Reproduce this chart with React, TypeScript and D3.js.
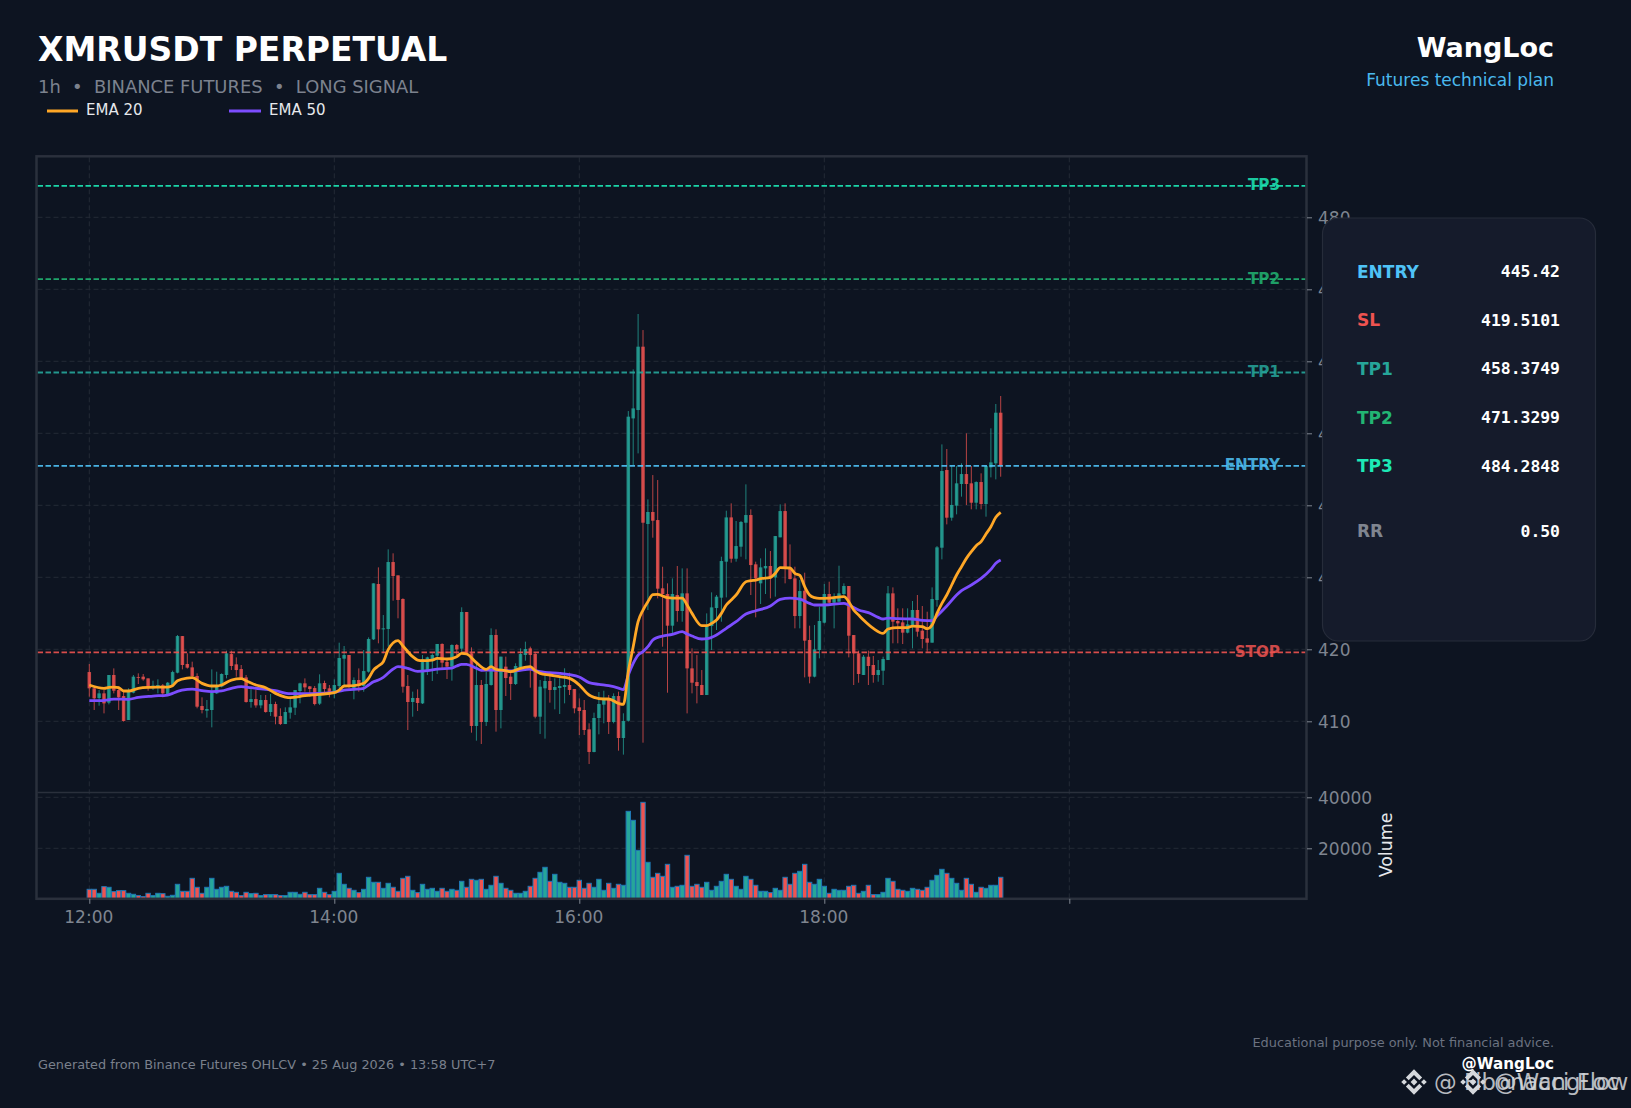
// App.tsx
import React, { useEffect, useRef } from 'react';
import * as d3 from 'd3';

const opens = [
  416.84,414.58,413.23,413.88,412.59,416.43,414.34,413.51,410.18,413.97,
  416.15,416.20,415.96,414.58,414.71,414.99,413.79,415.04,416.75,421.84,
  417.96,417.49,416.29,412.12,411.47,411.57,413.88,414.81,416.43,419.34,
  417.91,417.26,416.10,412.68,413.09,412.21,412.96,411.29,412.40,410.73,
  409.62,411.20,411.89,414.21,415.27,414.85,414.62,412.45,415.32,414.58,
  413.97,414.90,418.70,419.21,414.62,415.73,414.90,416.89,421.38,429.07,
  422.77,422.82,432.12,430.27,426.99,414.90,412.68,413.24,412.49,417.12,
  418.65,419.12,420.74,418.24,417.59,420.60,420.09,425.18,419.44,409.35,
  415.04,409.90,415.04,421.99,411.57,417.59,416.20,415.18,417.49,419.21,
  420.13,419.35,410.64,414.58,415.60,414.35,414.62,414.76,415.04,414.49,
  411.94,411.57,408.88,405.74,410.46,412.31,412.96,409.90,413.51,407.68,
  410.08,452.07,453.23,462.03,437.40,439.07,437.95,428.47,427.68,423.28,
  427.54,425.32,427.77,417.35,415.45,415.04,413.65,423.23,425.73,427.17,
  432.17,438.32,432.58,434.25,437.58,438.65,431.80,429.16,431.24,431.57,
  429.99,435.55,439.20,431.33,429.85,424.62,428.14,421.29,416.20,419.90,
  423.70,427.68,426.47,426.61,427.68,428.79,421.98,419.44,416.43,418.97,
  417.82,416.43,417.03,418.51,427.77,423.93,423.74,422.31,423.37,425.46,
  422.59,421.52,420.92,426.84,434.11,444.90,438.28,439.95,442.96,444.34,
  443.05,440.36,443.23,440.18,445.27,445.83,452.86,
];
const closes = [
  414.58,413.19,413.88,412.49,416.43,414.25,413.33,410.04,414.11,416.20,
  416.06,415.83,414.71,414.95,415.04,413.88,415.36,416.84,421.84,417.82,
  417.45,416.29,412.03,411.57,411.71,413.97,414.81,416.57,419.44,417.68,
  417.12,415.83,412.68,413.09,412.21,412.96,411.29,412.40,410.64,409.62,
  411.29,411.94,414.34,415.27,414.71,414.48,412.40,415.27,414.48,414.07,
  415.04,418.79,419.21,414.90,415.73,414.90,416.98,421.43,429.16,422.77,
  422.91,432.12,430.18,426.85,414.81,412.68,413.24,412.54,418.61,418.88,
  419.21,420.74,418.14,417.59,420.60,419.99,425.18,419.44,409.35,415.04,
  409.90,415.18,421.99,411.57,418.98,416.01,415.18,417.68,419.35,420.04,
  419.21,410.64,414.81,415.60,414.35,414.76,414.90,415.04,414.35,411.80,
  411.43,408.79,405.74,410.46,412.40,412.96,409.90,413.51,407.68,410.04,
  452.31,453.46,462.03,437.58,439.07,437.86,428.42,427.68,423.28,427.68,
  425.32,427.77,417.35,415.36,414.90,413.65,423.37,425.82,427.31,432.26,
  438.32,432.58,434.34,437.68,438.65,431.70,429.85,431.38,431.57,429.85,
  435.73,439.20,431.33,429.76,424.62,428.09,421.20,416.20,419.99,423.93,
  427.68,426.47,427.07,427.77,428.79,421.89,419.44,416.57,418.97,417.68,
  416.43,417.12,418.65,427.77,423.84,423.60,422.31,423.46,425.46,422.45,
  421.43,420.92,426.98,434.16,444.76,438.28,440.04,443.05,444.34,442.96,
  440.36,443.23,440.18,445.46,445.96,452.86,445.46,
];
const highs = [
  417.96,414.81,414.34,414.34,416.43,417.35,414.81,414.34,414.58,416.43,
  416.66,416.57,415.96,415.64,415.83,415.18,415.46,417.03,421.98,421.84,
  419.44,418.28,416.66,413.33,412.96,417.21,416.89,416.66,419.81,419.81,
  418.88,417.82,416.43,414.81,414.34,413.65,413.65,413.79,412.72,411.80,
  411.94,413.19,414.34,415.36,415.96,414.90,414.90,416.52,415.64,415.04,
  415.83,420.92,420.46,419.21,416.10,417.35,419.90,421.66,429.16,431.38,
  424.76,433.88,433.33,430.27,427.08,416.43,414.12,414.44,419.21,418.98,
  419.44,420.74,420.83,418.74,420.69,420.74,425.83,425.18,420.27,418.05,
  415.74,416.89,422.91,422.77,418.98,418.98,416.89,418.05,420.13,421.06,
  420.37,419.53,415.74,416.89,416.89,415.97,416.20,417.36,416.75,414.49,
  413.19,412.96,409.72,411.20,414.07,414.25,413.65,413.88,414.12,411.11,
  453.09,458.88,466.57,464.34,440.82,444.20,443.51,431.47,429.16,429.85,
  431.57,431.24,431.24,420.13,419.20,417.12,424.99,427.91,427.54,432.86,
  439.25,440.27,437.82,437.82,442.91,439.44,432.17,432.63,434.02,433.65,
  435.73,440.13,440.27,434.57,431.47,429.62,430.64,423.28,423.37,425.92,
  429.07,429.39,427.77,431.61,429.16,428.79,421.98,419.81,419.21,419.81,
  419.07,418.51,418.97,428.79,428.60,425.69,425.69,425.69,426.71,427.54,
  426.01,425.22,428.60,434.34,448.46,447.82,445.46,445.46,445.83,449.99,
  445.46,443.33,444.44,445.46,450.69,454.07,455.18,
];
const lows = [
  413.42,411.57,412.17,411.10,412.35,413.88,411.57,409.95,410.18,413.88,
  415.18,415.64,414.25,414.34,413.88,413.33,413.70,414.90,416.66,417.21,
  417.31,416.20,411.80,411.10,410.50,409.16,413.79,414.71,415.96,417.12,
  416.20,415.73,412.59,411.89,411.89,411.80,411.20,410.73,409.58,409.48,
  409.62,410.36,410.87,412.49,414.11,413.42,412.21,412.26,413.88,413.33,
  413.19,414.58,414.90,414.58,413.05,414.11,414.11,416.75,421.29,420.83,
  419.44,420.37,426.75,424.30,413.98,408.79,410.64,411.43,412.40,416.43,
  415.60,416.57,417.36,415.87,415.64,419.21,419.44,419.21,408.42,407.31,
  406.85,409.35,414.95,408.56,409.02,413.51,412.96,415.04,417.40,418.42,
  414.67,410.41,408.24,407.59,412.59,411.66,411.01,412.49,413.65,411.11,
  408.10,408.10,404.07,405.69,408.19,409.72,408.24,409.72,405.92,405.37,
  409.95,445.59,447.21,407.03,425.45,435.50,427.07,420.36,413.97,421.98,
  423.83,423.83,411.10,413.88,412.49,413.65,413.65,419.90,422.68,423.83,
  427.21,432.03,432.17,432.86,432.49,427.54,424.44,426.29,427.68,427.07,
  427.31,435.55,429.16,429.71,422.91,422.91,416.10,415.27,416.10,418.74,
  423.60,426.38,422.91,426.61,427.54,418.88,415.04,415.36,416.43,415.04,
  415.36,415.50,415.04,418.51,420.83,420.83,420.73,422.21,420.13,421.75,
  420.13,419.67,420.92,425.92,432.49,437.35,437.86,438.74,441.20,440.04,
  439.44,439.44,439.44,438.42,443.88,443.60,443.97,
];
const volumes = [
  3920,3920,2350,4970,4710,3010,3400,3400,2350,1960,
  1440,1050,2350,1440,2350,2220,1180,1570,5880,3140,
  3140,8230,4710,2350,4710,8230,3920,4710,5100,3140,
  2740,1440,2740,2220,2350,1440,1830,1830,1830,1440,
  1440,2740,2740,1960,2740,1830,1830,4310,2740,1830,
  3140,10190,5880,4310,3530,2610,3920,8630,6670,6670,
  4310,6270,4710,3140,8230,9020,3530,2610,5880,3920,
  4310,3140,4310,3140,3920,3530,7060,4710,7840,7450,
  7840,3920,5490,9020,6270,4310,3530,2350,2350,3140,
  5100,8230,10590,12550,7060,9800,6670,6270,4710,4710,
  7450,4310,6270,4710,7840,3530,6270,4310,5880,5490,
  34500,30980,19210,38030,14510,8630,10190,9020,13720,4710,
  5100,5490,17250,5100,5880,4710,6670,3530,5100,7060,
  9800,7840,5100,3920,9020,7840,5490,3140,3140,2610,
  4310,3530,8630,5880,10190,10980,13720,6670,5880,7840,
  5100,2350,3920,3530,3530,5100,5490,2350,3140,5490,
  1830,1830,2740,8230,7060,3920,3530,3140,4310,3920,
  3530,4710,7450,9410,11760,10190,8230,6270,3530,8230,
  5880,2740,4710,4310,5490,5490,8630,
];

// ema readings: candle index, value
const ema20Idx = [0,3,4,5,6,7,8,10,12,16,17,18,20,21,23,25,26,27,29,31,32,34,36,38,40,41,44,47,50,51,52,54,56,57,58,59,60,61,63,64,66,67,68,70,71,73,75,76,77,79,81,82,83,85,86,88,90,91,92,94,96,98,99,100,102,103,105,106,108,109,110,111,112,113,114,115,116,117,118,119,121,122,123,125,126,127,128,129,130,131,132,134,135,136,137,139,140,141,143,144,145,146,147,148,149,151,154,155,156,157,158,160,162,163,165,167,168,170,171,172,173,174,175,176,177,178,179,180,181,182,183,184,185,186];
const ema20Val = [415.04,414.58,414.71,414.76,414.67,414.21,414.21,414.58,414.71,414.76,414.95,415.64,416.01,416.06,415.27,414.90,414.90,415.04,415.73,415.92,415.64,415.04,414.67,413.88,413.37,413.28,413.56,413.74,413.97,414.34,414.90,414.95,415.27,415.96,417.12,417.68,418.28,419.95,421.20,420.46,418.98,418.51,418.42,418.51,418.74,418.65,418.98,419.44,419.35,418.14,417.22,417.59,417.22,417.03,416.89,417.36,417.59,417.03,416.66,416.43,416.20,415.97,415.60,415.04,413.65,413.33,413.10,413.10,412.49,412.35,416.89,420.36,423.83,425.45,426.61,427.58,427.63,427.40,427.17,427.12,427.12,426.15,424.99,423.28,423.28,423.60,424.07,424.99,426.15,426.84,427.54,429.39,429.53,429.62,429.81,429.99,430.55,431.33,431.29,430.55,430.27,428.70,427.54,427.17,427.07,427.12,427.31,426.61,425.46,424.76,424.07,422.91,422.21,422.82,423.00,423.00,423.23,423.14,422.86,423.37,424.99,426.38,427.54,428.93,430.32,431.47,432.63,433.56,434.39,434.95,436.01,437.03,438.33,439.02];
const ema50Idx = [0,2,4,5,8,10,13,16,17,18,20,21,23,25,27,29,31,33,36,38,41,43,47,50,52,54,56,57,58,59,60,62,63,65,67,69,71,74,75,76,77,79,80,82,85,87,90,91,93,96,98,100,102,104,106,108,109,110,111,112,113,114,115,116,117,119,121,122,123,125,126,128,130,132,134,136,139,141,143,145,147,148,150,154,155,157,159,161,162,163,165,168,170,172,173,175,177,178,180,182,184,185,186];
const ema50Val = [412.86,412.86,413.00,413.09,413.05,413.33,413.51,413.65,413.88,414.16,414.44,414.48,414.25,414.11,414.21,414.58,414.81,414.67,414.44,414.25,413.84,413.84,413.88,414.02,414.34,414.44,414.58,415.04,415.50,415.73,416.11,417.26,417.59,417.36,416.94,417.03,417.26,417.40,417.68,417.91,417.91,417.36,417.08,417.12,417.03,416.99,417.26,417.03,416.80,416.66,416.48,416.15,415.38,415.13,414.95,414.62,414.40,416.43,418.05,419.20,419.67,420.36,421.29,421.66,421.84,422.07,422.45,422.12,421.84,421.43,421.47,421.98,422.91,423.83,424.90,425.36,426.01,426.94,427.12,426.98,426.38,426.15,426.15,426.38,426.15,425.46,425.09,424.44,424.21,424.34,424.25,424.21,424.02,423.97,424.62,426.01,427.54,428.14,428.93,429.85,431.10,431.94,432.40];

const priceTicks = [410, 420, 430, 440, 450, 460, 470, 480];
const volumeTicks = [20000, 40000];
const timeTicks = [0, 50, 100, 150, 200];
const timeLabels = ['12:00', '14:00', '16:00', '18:00', ''];

const levelNames = ['TP3', 'TP2', 'TP1', 'ENTRY', 'STOP'];
const levelPrices = [484.2848, 471.3299, 458.3749, 445.42, 419.5101];
const levelColors = ['#1de9b6', '#22b573', '#26a69a', '#4fc3f7', '#ef5350'];

const cardNames = ['ENTRY', 'SL', 'TP1', 'TP2', 'TP3', 'RR'];
const cardValues = ['445.42', '419.5101', '458.3749', '471.3299', '484.2848', '0.50'];
const cardColors = ['#4fc3f7', '#ef5350', '#26a69a', '#22b573', '#1de9b6', '#7f8590'];
const cardBaselines = [277, 325.7, 374.3, 423, 471.7, 536.7];

const WIDTH = 1631;
const HEIGHT = 1108;
const BG = '#0d1421';
const GRID = '#232a36';
const FRAME = '#2a303c';
const TICK = '#7f8590';
const SANS = '"DejaVu Sans", sans-serif';
const MONO = '"DejaVu Sans Mono", monospace';

const App: React.FC = () => {
  const chartRef = useRef<SVGSVGElement | null>(null);

  useEffect(() => {
    document.body.style.margin = '0';
    document.body.style.background = BG;

    const svg = d3.select(chartRef.current);
    svg.selectAll('*').remove();

    const left = 37.5;
    const right = 1305.5;
    const top = 157.3;
    const split = 792.5;
    const bottom = 898.8;

    const x = d3.scaleLinear().domain([0, 200]).range([89.3, 1069.3]);
    const y = d3.scaleLinear().domain([410, 480]).range([721.3, 217.3]);
    const yVol = d3.scaleLinear().domain([0, 40000]).range([899.3, 797.3]);

    svg.append('rect').attr('width', WIDTH).attr('height', HEIGHT).attr('fill', BG);

    // grid
    const grid = svg.append('g').attr('stroke', GRID).attr('stroke-dasharray', '5,3').attr('stroke-width', 1);
    grid.selectAll('line.t').data(timeTicks).join('line').attr('class', 't')
      .attr('x1', (d) => x(d)).attr('x2', (d) => x(d)).attr('y1', top).attr('y2', bottom);
    grid.selectAll('line.p').data(priceTicks).join('line').attr('class', 'p')
      .attr('x1', left).attr('x2', right).attr('y1', (d) => y(d)).attr('y2', (d) => y(d));
    grid.selectAll('line.v').data(volumeTicks).join('line').attr('class', 'v')
      .attr('x1', left).attr('x2', right).attr('y1', (d) => yVol(d)).attr('y2', (d) => yVol(d));

    // volume bars
    const idx = d3.range(opens.length);
    const up = (i: number) => closes[i] >= opens[i];
    svg.append('g').selectAll('rect').data(idx).join('rect')
      .attr('x', (i) => x(i) - 2.2)
      .attr('width', 4.4)
      .attr('y', (i) => yVol(volumes[i]))
      .attr('height', (i) => yVol(0) - yVol(volumes[i]))
      .attr('fill', (i) => (up(i) ? '#26a69a' : '#ef5350'))
      .attr('stroke', '#1f77b4')
      .attr('stroke-width', 1);

    // candles
    const candles = svg.append('g');
    candles.selectAll('line').data(idx).join('line')
      .attr('x1', (i) => x(i)).attr('x2', (i) => x(i))
      .attr('y1', (i) => y(highs[i])).attr('y2', (i) => y(lows[i]))
      .attr('stroke', (i) => (up(i) ? '#26a69a' : '#ef5350'))
      .attr('stroke-width', 1)
      .attr('opacity', 0.75);
    candles.selectAll('rect').data(idx).join('rect')
      .attr('x', (i) => x(i) - 1.75)
      .attr('width', 3.5)
      .attr('y', (i) => y(Math.max(opens[i], closes[i])))
      .attr('height', (i) => Math.max(0.8, Math.abs(y(opens[i]) - y(closes[i]))))
      .attr('fill', (i) => (up(i) ? '#26a69a' : '#ef5350'))
      .attr('opacity', 0.82);

    // level lines
    const levels = svg.append('g');
    levels.selectAll('line').data(levelPrices).join('line')
      .attr('x1', left).attr('x2', right)
      .attr('y1', (d) => y(d) - 0.5).attr('y2', (d) => y(d) - 0.5)
      .attr('stroke', (_, i) => levelColors[i])
      .attr('stroke-width', 1.8)
      .attr('stroke-dasharray', '5.5,2.5')
      .attr('opacity', 0.9);

    // emas
    const drawEma = (xs: number[], ys: number[], color: string) => {
      const line = d3.line<number>()
        .x((i) => x(xs[i]))
        .y((i) => y(ys[i]))
        .curve(d3.curveMonotoneX);
      svg.append('path')
        .attr('d', line(d3.range(xs.length)))
        .attr('fill', 'none')
        .attr('stroke', color)
        .attr('stroke-width', 2.8);
    };
    drawEma(ema50Idx, ema50Val, '#7c4dff');
    drawEma(ema20Idx, ema20Val, '#ffa726');

    levels.selectAll('text').data(levelNames).join('text')
      .attr('x', 1280)
      .attr('y', (_, i) => y(levelPrices[i]) + 3.8)
      .attr('text-anchor', 'end')
      .attr('font-family', SANS)
      .attr('font-weight', 'bold')
      .attr('font-size', 15.2)
      .attr('fill', (_, i) => levelColors[i])
      .attr('opacity', 0.85)
      .text((d) => d);

    // frame
    svg.append('rect').attr('x', left - 1).attr('y', top - 1).attr('width', right - left + 2).attr('height', bottom - top + 1)
      .attr('fill', 'none').attr('stroke', FRAME).attr('stroke-width', 2.5);
    svg.append('line').attr('x1', left).attr('x2', right).attr('y1', split).attr('y2', split)
      .attr('stroke', FRAME).attr('stroke-width', 1.5);

    // axes
    const styleAxis = (g: any) => {
      g.select('.domain').remove();
      g.selectAll('.tick line').attr('stroke', TICK);
      g.selectAll('.tick text').attr('fill', TICK).attr('font-family', SANS).attr('font-size', 17);
    };
    svg.append('g').attr('transform', `translate(${right + 1.5},0.6)`)
      .call(d3.axisRight(y).tickValues(priceTicks).tickSize(5).tickPadding(6) as any)
      .call(styleAxis)
      .selectAll('.tick line').attr('y1', -0.6).attr('y2', -0.6);
    svg.append('g').attr('transform', `translate(${right + 1.5},1)`)
      .call(d3.axisRight(yVol).tickValues(volumeTicks).tickSize(5).tickPadding(6).tickFormat(d3.format('d') as any) as any)
      .call(styleAxis)
      .selectAll('.tick line').attr('y1', -1).attr('y2', -1);
    svg.append('g').attr('transform', `translate(-1,${bottom})`)
      .call(d3.axisBottom(x).tickValues(timeTicks).tickSize(5).tickPadding(7)
        .tickFormat((_, i) => timeLabels[i]) as any)
      .call(styleAxis)
      .selectAll('.tick line').attr('x1', 1).attr('x2', 1);

    svg.append('text')
      .attr('transform', 'translate(1392,845) rotate(-90)')
      .attr('text-anchor', 'middle')
      .attr('font-family', SANS).attr('font-size', 17.4).attr('fill', '#e6e8ec')
      .text('Volume');

    // header
    const text = (t: string, tx: number, ty: number, size: number, fill: string, anchor = 'start', weight = 'normal', family = SANS) =>
      svg.append('text').attr('x', tx).attr('y', ty).attr('font-size', size).attr('fill', fill)
        .attr('text-anchor', anchor).attr('font-weight', weight).attr('font-family', family).text(t);

    text('XMRUSDT PERPETUAL', 38, 61, 33, '#ffffff', 'start', 'bold');
    text('1h  \u2022  BINANCE FUTURES  \u2022  LONG SIGNAL', 38, 92.5, 17.9, '#7c828e').style('white-space', 'pre');
    text('WangLoc', 1554, 57, 27, '#ffffff', 'end', 'bold');
    text('Futures technical plan', 1554, 86, 17, '#4ab9ee', 'end');

    svg.append('line').attr('x1', 47).attr('x2', 78).attr('y1', 111).attr('y2', 111).attr('stroke', '#ffa726').attr('stroke-width', 3);
    text('EMA 20', 86, 115, 15, '#e6e8ec');
    svg.append('line').attr('x1', 229).attr('x2', 261).attr('y1', 111).attr('y2', 111).attr('stroke', '#7c4dff').attr('stroke-width', 3);
    text('EMA 50', 269, 115, 15, '#e6e8ec');

    // card
    svg.append('rect').attr('x', 1322.5).attr('y', 218).attr('width', 273).attr('height', 423).attr('rx', 16)
      .attr('fill', '#151b2b').attr('stroke', '#262c3a').attr('stroke-width', 1.2);
    cardNames.forEach((name, i) => {
      text(name, 1357, cardBaselines[i] + 0.6, 17, cardColors[i], 'start', 'bold');
      text(cardValues[i], 1560, cardBaselines[i], 16.4, '#ffffff', 'end', 'bold', MONO);
    });

    // footer
    text('Generated from Binance Futures OHLCV \u2022 25 Aug 2026 \u2022 13:58 UTC+7', 38, 1069, 12.85, '#7a808c');
    text('Educational purpose only. Not financial advice.', 1554, 1047, 12.9, '#6b7280', 'end');
    text('@WangLoc', 1554, 1068.5, 15.2, '#ffffff', 'end', 'bold');

    // watermark
    const logo = (cx: number, cy: number, s: number) => {
      const g = svg.append('g').attr('fill', '#d5d8dc').attr('transform', `translate(${cx},${cy}) rotate(45) scale(${s})`);
      g.append('rect').attr('x', -2.4).attr('y', -2.4).attr('width', 4.8).attr('height', 4.8);
      g.append('path').attr('d', 'M-9,-9 H2.5 V-5 H-5 V2.5 H-9 Z');
      g.append('path').attr('d', 'M9,9 H-2.5 V5 H5 V-2.5 H9 Z');
      g.append('rect').attr('x', 5).attr('y', -9).attr('width', 4).attr('height', 4);
      g.append('rect').attr('x', -9).attr('y', 5).attr('width', 4).attr('height', 4);
    };
    logo(1414, 1082, 1);
    logo(1473, 1082, 1);
    text('@ Fibonacci Flow', 1434, 1090, 22.7, '#d5d8dc').attr('opacity', 0.85);
    text('@WangLoc', 1494, 1090, 22.7, '#d5d8dc').attr('opacity', 0.85);
  }, []);

  return <svg ref={chartRef} width={WIDTH} height={HEIGHT} style={{ display: 'block' }} />;
};

export default App;
